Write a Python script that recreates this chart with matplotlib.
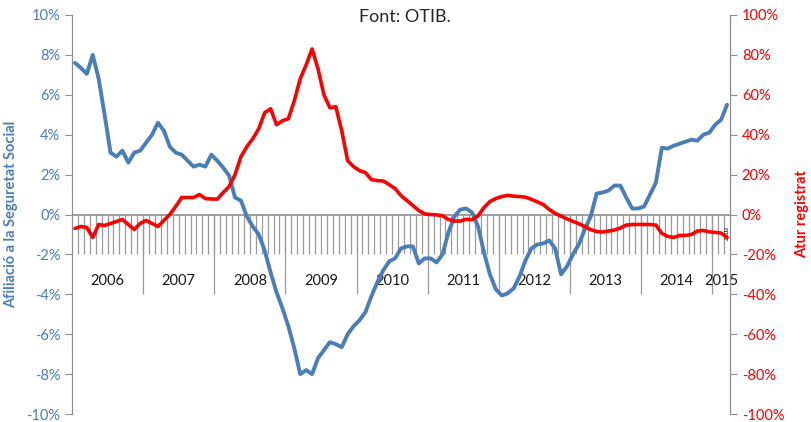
import matplotlib
matplotlib.use("Agg")
import matplotlib.pyplot as plt
import numpy as np

# dades mensuals, gener 2006 - marc 2015
anys = [2006, 2007, 2008, 2009, 2010, 2011, 2012, 2013, 2014, 2015]

# variacio interanual afiliacio a la Seguretat Social (%)
afiliacio = [7.6, 7.35, 7.05, 8.0, 6.8, 5.0, 3.1, 2.9, 3.2, 2.6, 3.1, 3.2,
             3.6, 4.0, 4.6, 4.2, 3.4, 3.1, 3.0, 2.7, 2.4, 2.5, 2.4, 3.0,
             2.7, 2.35, 1.95, 0.85, 0.7, -0.1, -0.6, -1.0, -1.8, -2.9, -3.9, -4.7,
             -5.6, -6.7, -8.0, -7.8, -8.0, -7.2, -6.8, -6.4, -6.5, -6.65, -6.0, -5.6,
             -5.3, -4.9, -4.1, -3.4, -2.8, -2.35, -2.2, -1.7, -1.6, -1.6, -2.45, -2.2,
             -2.2, -2.4, -2.0, -0.9, -0.1, 0.25, 0.3, 0.1, -0.6, -1.9, -3.0, -3.75,
             -4.06, -3.95, -3.7, -3.1, -2.3, -1.7, -1.5, -1.45, -1.3, -1.7, -3.0, -2.6,
             -2.0, -1.5, -0.75, -0.1, 1.05, 1.1, 1.2, 1.45, 1.45, 0.85, 0.3, 0.3,
             0.4, 1.0, 1.6, 3.35, 3.3, 3.45, 3.55, 3.65, 3.75, 3.7, 4.0, 4.1,
             4.5, 4.75, 5.5]

# variacio interanual atur registrat (%)
atur = [-7, -6, -6.5, -11.5, -5, -5.5, -4.5, -3.5, -2.5, -5, -7.5, -4.5,
        -3, -4.5, -6, -3, 0, 4, 8.5, 8.5, 8.5, 10, 8, 7.8,
        7.7, 11, 14, 20, 29, 34, 38, 43, 51, 53, 45, 47,
        48, 57, 68, 75, 83, 73, 60, 53.5, 54, 42, 27, 24,
        22, 21, 17.5, 17, 16.8, 15, 13, 9.5, 7, 4.5, 2, 0.3,
        0, -0.2, -0.6, -2.5, -3.3, -3.3, -2.4, -2.6, -0.7, 3.5, 6.5, 8,
        9, 9.6, 9.2, 9, 8.7, 7.6, 6.3, 5, 2.5, 0.6, -0.8, -2.2,
        -3.4, -4.6, -6, -7.6, -8.5, -8.8, -8.3, -7.8, -6.8, -5.3, -5, -5,
        -5, -5, -5.3, -9.5, -11, -11.5, -10.5, -10.5, -10, -8.3, -8, -8.7,
        -9, -9.3, -11.5]

blau = "#4A7EBB"
vermell = "#FF0000"
gris = "#8C8C8C"

plt.rcParams['font.family'] = ['Lato', 'DejaVu Sans']

x = np.arange(len(afiliacio))

fig = plt.figure(figsize=(8.12, 4.22), dpi=100)
ax = fig.add_axes([72 / 812, 8 / 422, 658 / 812, 399 / 422])
ax2 = ax.twinx()

# linia del zero i marques de mesos / anys
ax.axhline(0, color=gris, lw=1.2, zorder=1)
ax.vlines(x[1:] - 0.5, -2, 0, color="#9A9A9A", lw=0.9, zorder=1)
inici_any = x[12::12] - 0.5
ax.vlines(inici_any, -4, 0, color="#9A9A9A", lw=0.9, zorder=1)

# etiquetes dels anys
for k, a in enumerate(anys):
    ini = k * 12 - 0.5
    fi = min(k * 12 + 12, len(x)) - 0.5
    ax.text((ini + fi) / 2, -3.35, str(a), ha="center", va="center",
            fontsize=10.5, color="#1a1a1a", zorder=2)
ax.text(x[-1] - 0.3, -1.0, "mar", rotation=270, ha="center", va="center",
        fontsize=6, color="#1a1a1a")

# series
ax.plot(x, afiliacio, color=blau, lw=2.8, solid_capstyle="round",
        solid_joinstyle="round", zorder=3)
ax2.plot(x, atur, color=vermell, lw=2.6, solid_capstyle="round",
         solid_joinstyle="round", zorder=3)

ax.set_xlim(-0.5, len(x) - 0.5)
ax.set_ylim(-10, 10)
ax2.set_ylim(-100, 100)
ax.set_xticks([])

ax.set_yticks(np.arange(-10, 11, 2))
ax.set_yticklabels([f"{v}%" for v in range(-10, 11, 2)])
ax2.set_yticks(np.arange(-100, 101, 20))
ax2.set_yticklabels([f"{v}%" for v in range(-100, 101, 20)])

for a in (ax, ax2):
    for s in ("top", "bottom"):
        a.spines[s].set_visible(False)
    a.spines["left"].set_color(gris)
    a.spines["right"].set_color(gris)
ax.tick_params(axis="y", colors=gris, labelcolor=blau, labelsize=10.5, length=5, direction="out")
ax2.tick_params(axis="y", colors=gris, labelcolor=vermell, labelsize=10.5, length=5, direction="out")

ax.set_ylabel("Afiliació a la Seguretat Social", color=blau, fontsize=10.5,
              fontweight="bold", labelpad=6)
ax2.set_ylabel("Atur registrat", color=vermell, fontsize=10.5,
               fontweight="bold", labelpad=8)

fig.text(405 / 812, 1 - 17 / 422, "Font: OTIB.", ha="center", va="center",
         fontsize=13, color="#262626")

fig.savefig("out.png", dpi=100)
